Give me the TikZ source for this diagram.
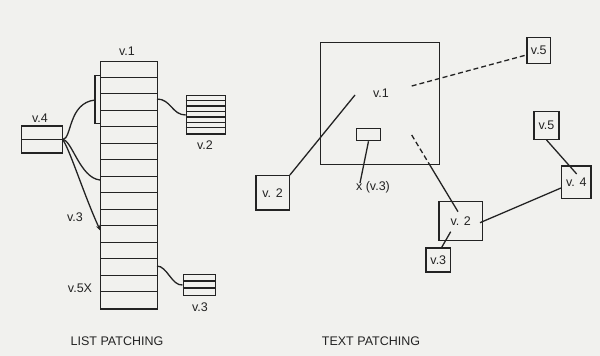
\documentclass[tikz,border=0pt]{standalone}
\usepackage{fontspec}
\setmainfont{Liberation Sans}
\usetikzlibrary{arrows.meta,calc}
\definecolor{paper}{RGB}{241,241,238}
\definecolor{ink}{RGB}{35,35,35}
\tikzset{
  ink/.style={draw=ink, line width=1.3pt},
  lbl/.style={text=ink, font=\fontsize{12.5}{13}\selectfont, inner sep=0pt},
  tbox/.style={ink, rectangle, text=ink, font=\fontsize{12.5}{13}\selectfont, inner sep=0pt},
  plain/.style={ink, rectangle, inner sep=0pt},
  conn/.style={ink},
  dconn/.style={ink, dash pattern=on 5pt off 3pt},
}
\begin{document}
\begin{tikzpicture}[x=1pt,y=-1pt]
\useasboundingbox (0,0) rectangle (600,356);
\fill[paper] (0,0) rectangle (600,356);

% ---------- LIST PATCHING ----------
\node[plain, minimum width=57pt, minimum height=247.5pt, anchor=north west] (col) at (100,60.7) {};
\foreach \i in {1,...,14}
  \draw[ink] ($(col.north west)+(0,\i*16.5)$) -- ++(57,0);
\node[lbl] (lv1) at (127,51) {v.1};

% bracket on left of column
\coordinate (bt) at (100,75.5);
\coordinate (bb) at (100,123.5);
\draw[ink] (bt) -- ++(-5,0) |- (bb);
\coordinate (bm) at (95,100);

% v.4 box
\node[plain, minimum width=41pt, minimum height=27pt] (v4) at (42.2,139.5) {};
\draw[ink] (v4.west) -- (v4.east);
\node[lbl] (lv4) at (40,118) {v.4};

% v.2 box (right)
\node[plain, minimum width=39.3pt, minimum height=38.3pt, anchor=north west] (v2l) at (185.7,95) {};
\foreach \i in {1,...,6}
  \draw[ink] ($(v2l.north west)+(0,\i*5.47)$) -- ++(39.3,0);
\node[lbl] (lv2) at (205,145) {v.2};

% v.3 box (right, bottom)
\node[plain, minimum width=32pt, minimum height=21pt, anchor=north west] (v3l) at (182.5,274) {};
\foreach \i in {1,2}
  \draw[ink] ($(v3l.north west)+(0,\i*7)$) -- ++(32,0);
\node[lbl] (lv3b) at (200,307) {v.3};

\node[lbl] (lv3) at (75,217) {v.3};
\node[lbl] (lv5x) at (80,288) {v.5X};

% connectors
\coordinate (c2a) at (157,99);
\draw[conn] (c2a) .. controls (171,99) and (172,115) .. (v2l.west |- 0,115);
\coordinate (c3a) at (157,266);
\draw[conn] (c3a) .. controls (167,266) and (172,286) .. (v3l.west |- 0,285);

\coordinate (v4o) at (62.7,139.5);
\draw[conn] (v4o) .. controls (72,139) and (68,103) .. (bm);
\coordinate (e2) at (100,180);
\draw[conn] (v4o) .. controls (72,140) and (80,178) .. (e2);
\coordinate (e3) at (100.5,231);
\draw[conn, -{Stealth[length=6pt,width=4pt]}] (v4o) .. controls (70,150) and (84,195) .. (e3);

\node[lbl] (t1) at (117,341) {LIST PATCHING};

% ---------- TEXT PATCHING ----------
\node[plain, minimum width=119pt, minimum height=122.3pt, anchor=north west] (sq) at (320,41.7) {};
\node[lbl] (tv1) at (381,93) {v.1};
\node[plain, minimum width=24.3pt, minimum height=12pt, anchor=north west] (sr) at (355.7,128) {};
\coordinate (xl) at (360,183);
\draw[conn] (sr.south) -- (xl);
\node[lbl, anchor=north] (lx) at (373,181) {x (v.3)};

\node[tbox, minimum width=33.3pt, minimum height=34.3pt] (b2a) at (272.6,192.8) {v. 2};
\coordinate (p1) at (355,95);
\draw[conn] (b2a.north east) -- (p1);

\node[tbox, minimum width=23.7pt, minimum height=26pt] (b5a) at (538.8,50.3) {v.5};
\coordinate (p2) at (411.7,86);
\draw[dconn] (p2) -- (b5a.west |- 0,55);

\node[tbox, minimum width=43.3pt, minimum height=39pt] (b2b) at (460.7,221.2) {v. 2};
\coordinate (p3) at (411.7,135);
\coordinate (p3b) at (429.2,164);
\coordinate (p3c) at (458,211.7);
\draw[dconn] (p3) -- (p3b);
\draw[conn] (p3b) -- (p3c);

\node[tbox, minimum width=24.7pt, minimum height=24pt] (b3) at (438.3,260) {v.3};
\coordinate (p4) at (450.7,231.7);
\draw[conn] (p4) -- (b3.north east -| 441.7,0);

\node[tbox, minimum width=25pt, minimum height=27.6pt] (b5b) at (546.5,125.5) {v.5};
\node[tbox, minimum width=29.3pt, minimum height=32.3pt] (b4) at (576.3,182.2) {v. 4};
\coordinate (p5) at (576.7,174);
\draw[conn] (b5b.south) -- (p5);
\coordinate (p6) at (480,222.7);
\draw[conn] (b4.west |- 0,188) -- (p6);

\node[lbl] (t2) at (371,341) {TEXT PATCHING};
\end{tikzpicture}
\end{document}
